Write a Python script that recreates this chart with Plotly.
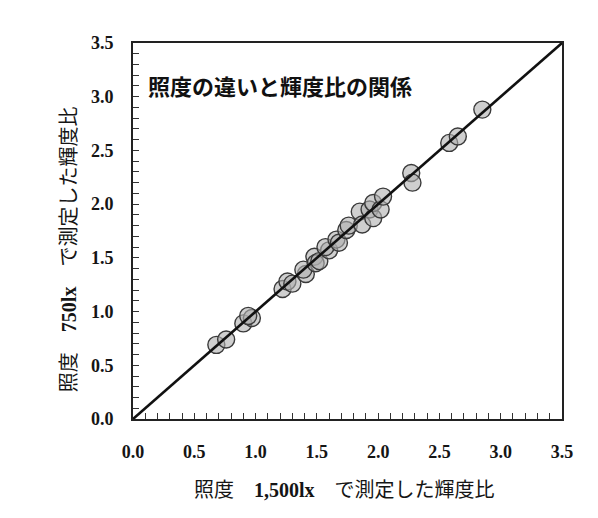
import plotly.graph_objects as go

# Luminance ratio measured at 1,500 lx (x) vs at 750 lx (y)
x1500 = [0.68, 0.76, 0.90, 0.97, 0.94, 1.22, 1.26, 1.30, 1.41, 1.39, 1.48, 1.49,
         1.52, 1.60, 1.57, 1.66, 1.68, 1.74, 1.76, 1.85, 1.87, 1.93, 1.96, 1.96,
         2.02, 2.04, 2.27, 2.28, 2.58, 2.65, 2.85]
y750 = [0.69, 0.74, 0.89, 0.94, 0.96, 1.21, 1.28, 1.26, 1.35, 1.39, 1.51, 1.45,
        1.47, 1.57, 1.60, 1.67, 1.64, 1.76, 1.80, 1.93, 1.81, 1.95, 1.87, 2.01,
        1.95, 2.07, 2.29, 2.20, 2.57, 2.63, 2.88]

# 1:1 reference line
line_x = [0.0, 3.5]
line_y = [0.0, 3.5]

tick_vals = [0.0, 0.5, 1.0, 1.5, 2.0, 2.5, 3.0, 3.5]
tick_text = ["0.0", "0.5", "1.0", "1.5", "2.0", "2.5", "3.0", "3.5"]

title_text = "照度の違いと輝度比の関係"
x_title = "照度　<b>1,500lx</b>　で測定した輝度比"
y_title = "照度　<b>750lx</b>　で測定した輝度比"

FONT = "Liberation Serif, Noto Sans CJK JP, serif"
INK = "#151515"

fig = go.Figure()
fig.add_trace(go.Scatter(
    x=x1500, y=y750, mode="markers",
    marker=dict(size=17, color="rgba(175,175,175,0.6)",
                line=dict(color="#3a3a3a", width=1.4)),
    showlegend=False, hoverinfo="skip",
))
fig.add_trace(go.Scatter(
    x=line_x, y=line_y, mode="lines",
    line=dict(color="#111111", width=2.6),
    showlegend=False, hoverinfo="skip",
))

axis_common = dict(
    range=[0, 3.5], tickvals=tick_vals, ticktext=tick_text,
    showgrid=False, zeroline=False,
    showline=True, mirror=True, linecolor="#222222", linewidth=1.6,
    ticks="inside", ticklen=6, tickcolor="#333333", tickwidth=1,
    minor=dict(dtick=0.1, ticks="inside", ticklen=6, tickcolor="#333333",
               tickwidth=1, showgrid=False),
    tickfont=dict(family=FONT, size=18, color=INK, weight="bold"),
)

fig.update_xaxes(**axis_common, ticklabelstandoff=16)
fig.update_yaxes(**axis_common, ticklabelstandoff=14)

# Axis titles
fig.add_annotation(
    x=0.494, y=-0.189, xref="paper", yref="paper",
    xanchor="center", yanchor="middle", showarrow=False,
    text=x_title, font=dict(family=FONT, size=20, color=INK),
)
fig.add_annotation(
    x=-0.149, y=0.452, xref="paper", yref="paper",
    xanchor="center", yanchor="middle", showarrow=False, textangle=-90,
    text=y_title, font=dict(family=FONT, size=20, color=INK),
)

# Chart heading inside the plot area
fig.add_annotation(
    x=0.03, y=0.888, xref="paper", yref="paper",
    xanchor="left", yanchor="middle", showarrow=False,
    text="<b>" + title_text + "</b>",
    font=dict(family="Noto Sans CJK JP, sans-serif", size=22, color="#111111"),
)

fig.update_layout(
    width=598, height=518,
    margin=dict(l=133, r=36, t=43, b=99),
    paper_bgcolor="white", plot_bgcolor="white",
)

fig.write_html("out.html")
